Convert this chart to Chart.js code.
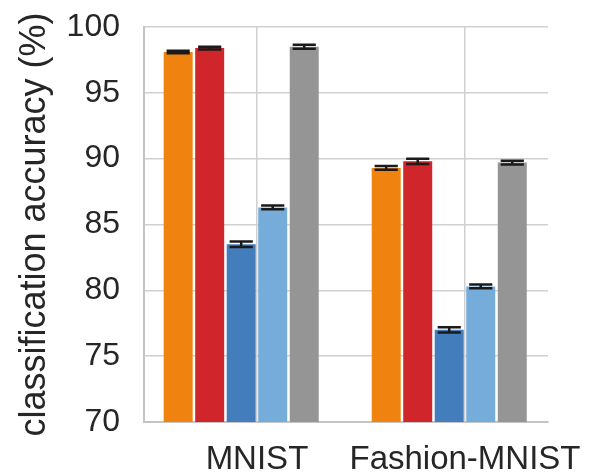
<!DOCTYPE html>
<html>
<head>
<meta charset="utf-8">
<script src="https://cdn.jsdelivr.net/npm/chart.js@4.4.1/dist/chart.umd.min.js"></script>
<style>
  html, body { margin: 0; padding: 0; background: #fff; }
  canvas { display: block; }
</style>
</head>
<body>
<canvas id="accChart" width="590" height="475"></canvas>
<script>
// Jeux de données et séries (la 6e série n'a pas de valeur, d'où le décalage des groupes)
const categories = ['MNIST', 'Fashion-MNIST'];
const seriesNames = ['M1', 'M2', 'M3', 'M4', 'M5', 'M6'];
const seriesColors = ['#f0820f', '#d0252a', '#437dbc', '#76acd9', '#959595', '#cccccc'];

// Précision moyenne (%) par série, dans l'ordre des catégories
const accM1 = [98.1, 89.3];
const accM2 = [98.4, 89.8];
const accM3 = [83.5, 77.0];
const accM4 = [86.3, 80.3];
const accM5 = [98.5, 89.7];
const accM6 = [null, null];

// Écart (demi-hauteur des barres d'erreur)
const errM1 = [0.1, 0.15];
const errM2 = [0.1, 0.2];
const errM3 = [0.2, 0.2];
const errM4 = [0.15, 0.15];
const errM5 = [0.15, 0.15];
const errM6 = [null, null];

const yTicks = [70, 75, 80, 85, 90, 95, 100];

const allAcc = [accM1, accM2, accM3, accM4, accM5, accM6];
const allErr = [errM1, errM2, errM3, errM4, errM5, errM6];

const datasets = allAcc.map((values, i) => ({
    label: seriesNames[i],
    data: values.map((v, j) => ({ x: j, y: v })),
    errors: allErr[i],
    backgroundColor: seriesColors[i],
    borderWidth: 0,
    categoryPercentage: 0.909,
    barPercentage: 0.92,
}));

// Barres d'erreur dessinées par-dessus les barres
const errorBarsPlugin = {
    id: 'errorBars',
    afterDatasetsDraw(chart) {
        const ctx = chart.ctx;
        const yScale = chart.scales.y;
        ctx.save();
        ctx.strokeStyle = '#1a1a1a';
        ctx.lineWidth = 2.5;
        chart.data.datasets.forEach((ds, i) => {
            const meta = chart.getDatasetMeta(i);
            meta.data.forEach((bar, j) => {
                const v = ds.data[j].y;
                const e = ds.errors[j];
                if (v === null || e === null) return;
                const yTop = yScale.getPixelForValue(v + e);
                const yBot = yScale.getPixelForValue(v - e);
                const half = bar.width * 0.4;
                ctx.beginPath();
                ctx.moveTo(bar.x, yTop);
                ctx.lineTo(bar.x, yBot);
                ctx.moveTo(bar.x - half, yTop);
                ctx.lineTo(bar.x + half, yTop);
                ctx.moveTo(bar.x - half, yBot);
                ctx.lineTo(bar.x + half, yBot);
                ctx.stroke();
            });
        });
        ctx.restore();
    }
};

new Chart(document.getElementById('accChart'), {
    type: 'bar',
    data: { datasets },
    options: {
        responsive: false,
        animation: false,
        layout: { padding: { left: 0, right: 42, top: 27, bottom: 0 } },
        plugins: {
            legend: { display: false },
            tooltip: { enabled: false },
        },
        scales: {
            x: {
                type: 'linear',
                min: -0.543,
                max: 1.399,
                offset: false,
                afterBuildTicks: (scale) => {
                    scale.ticks = categories.map((c, i) => ({ value: i }));
                },
                afterFit: (scale) => {
                    // les libellés peuvent déborder à droite sans réduire la zone du graphique
                    scale.height = 53;
                    scale.paddingLeft = 0;
                    scale.paddingRight = 0;
                },
                ticks: {
                    callback: (value) => categories[value],
                    color: '#262626',
                    padding: 18,
                    maxRotation: 0,
                    autoSkip: false,
                    font: { family: 'Liberation Sans', size: 33 },
                },
                grid: { color: '#d0d0d0', lineWidth: 1.5, drawTicks: false, offset: false },
                border: { display: true, color: '#c4c4c4', width: 2 },
            },
            y: {
                min: 70,
                max: 100,
                afterBuildTicks: (scale) => {
                    scale.ticks = yTicks.map(v => ({ value: v }));
                },
                afterFit: (scale) => {
                    scale.width = 144;
                    scale.paddingTop = 0;
                    scale.paddingBottom = 0;
                },
                ticks: {
                    color: '#262626',
                    padding: 24,
                    font: { family: 'Liberation Sans', size: 32 },
                },
                grid: { color: '#d0d0d0', lineWidth: 1.5, drawTicks: false },
                border: { display: true, color: '#c4c4c4', width: 2 },
                title: {
                    display: true,
                    text: 'classification accuracy (%)',
                    color: '#262626',
                    padding: { top: 13, bottom: 0 },
                    font: { family: 'Liberation Sans', size: 36 },
                },
            },
        },
    },
    plugins: [errorBarsPlugin],
});
</script>
</body>
</html>
